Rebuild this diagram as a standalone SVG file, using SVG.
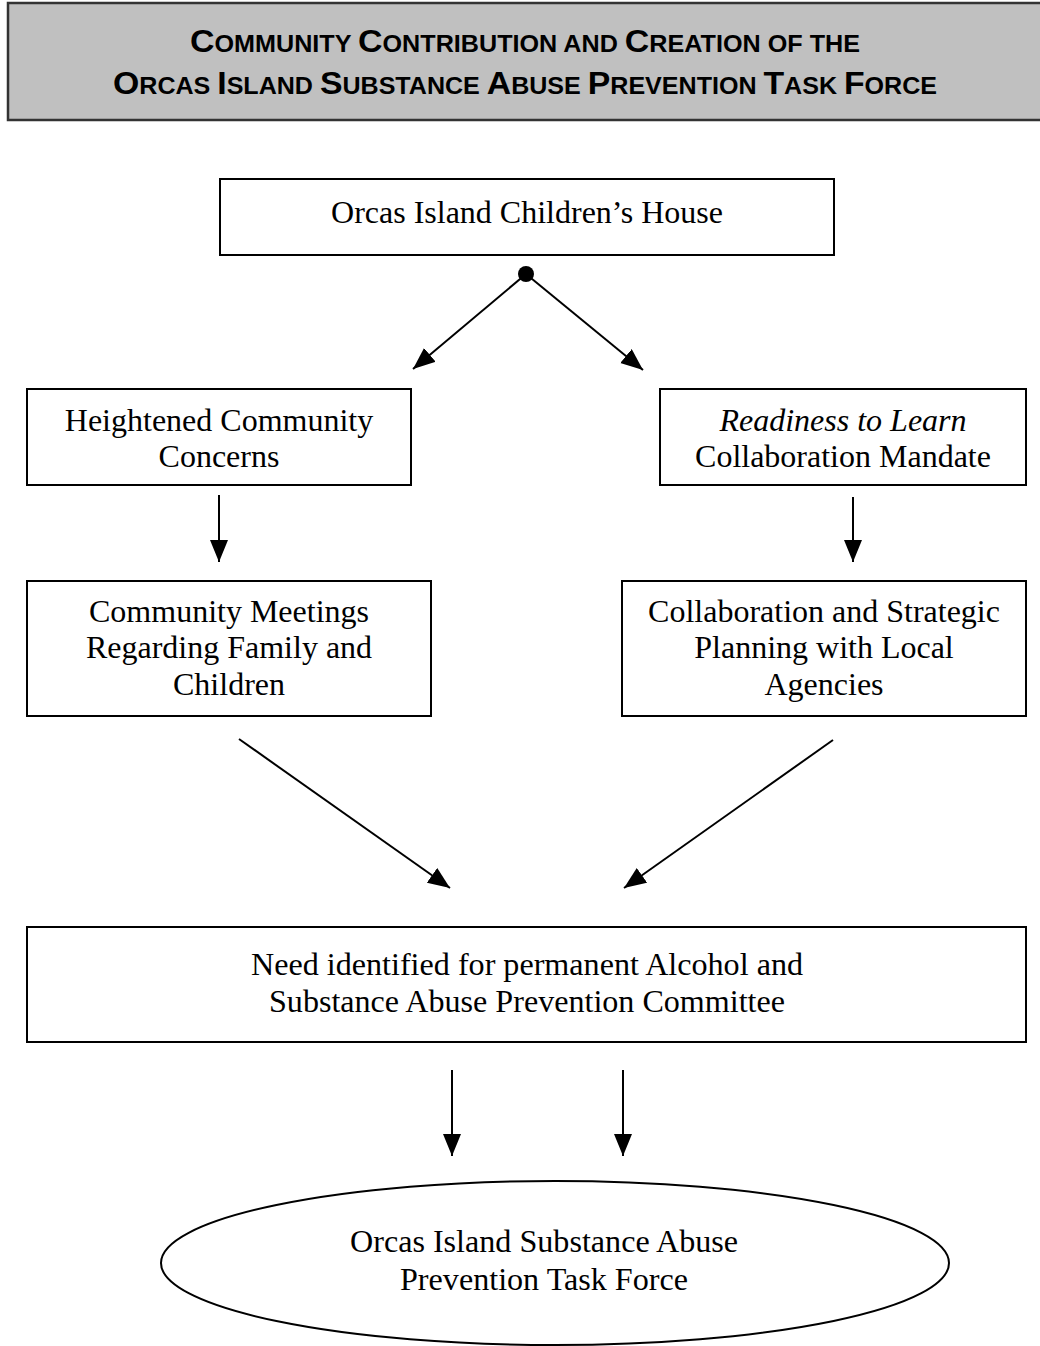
<svg xmlns="http://www.w3.org/2000/svg" width="1040" height="1346" viewBox="0 0 1040 1346">
<style>
.box{fill:#fff;stroke:#000;stroke-width:2}
.t{font-family:"Liberation Serif","Times New Roman",serif;font-size:32px;fill:#000;text-anchor:middle}
.h{font-family:"Liberation Sans",Arial,sans-serif;font-weight:bold;fill:#000;text-anchor:middle}
.big{font-size:31px}
.sm{font-size:23px}
.c{stroke:#000;stroke-width:2;fill:none}
</style>
<defs>
<marker id="ah" markerUnits="userSpaceOnUse" markerWidth="24" markerHeight="20" refX="22" refY="9" orient="auto">
<path d="M0,0 L22,9 L0,18 z" fill="#000"/>
</marker>
</defs>
<rect width="1040" height="1346" fill="#fff"/>
<g id="header">
<rect x="8" y="3" width="1040" height="117" fill="#c0c0c0" stroke="#333" stroke-width="2.5"/>
<text class="h" x="525" y="52" textLength="670" lengthAdjust="spacingAndGlyphs"><tspan class="big">C</tspan><tspan class="sm">OMMUNITY </tspan><tspan class="big">C</tspan><tspan class="sm">ONTRIBUTION AND </tspan><tspan class="big">C</tspan><tspan class="sm">REATION OF THE</tspan></text>
<text class="h" x="525" y="94" textLength="824" lengthAdjust="spacingAndGlyphs"><tspan class="big">O</tspan><tspan class="sm">RCAS </tspan><tspan class="big">I</tspan><tspan class="sm">SLAND </tspan><tspan class="big">S</tspan><tspan class="sm">UBSTANCE </tspan><tspan class="big">A</tspan><tspan class="sm">BUSE </tspan><tspan class="big">P</tspan><tspan class="sm">REVENTION </tspan><tspan class="big">T</tspan><tspan class="sm">ASK </tspan><tspan class="big">F</tspan><tspan class="sm">ORCE</tspan></text>
</g>
<g id="node-childrens-house">
<rect class="box" x="220" y="179" width="614" height="76"/>
<text class="t" x="527" y="223">Orcas Island Children’s House</text>
</g>
<g id="node-heightened">
<rect class="box" x="27" y="389" width="384" height="96"/>
<text class="t" x="219" y="431">Heightened Community</text>
<text class="t" x="219" y="467">Concerns</text>
</g>
<g id="node-readiness">
<rect class="box" x="660" y="389" width="366" height="96"/>
<text class="t" x="843" y="431" font-style="italic">Readiness to Learn</text>
<text class="t" x="843" y="467">Collaboration Mandate</text>
</g>
<g id="node-meetings">
<rect class="box" x="27" y="581" width="404" height="135"/>
<text class="t" x="229" y="622">Community Meetings</text>
<text class="t" x="229" y="658">Regarding Family and</text>
<text class="t" x="229" y="695">Children</text>
</g>
<g id="node-collab">
<rect class="box" x="622" y="581" width="404" height="135"/>
<text class="t" x="824" y="622">Collaboration and Strategic</text>
<text class="t" x="824" y="658">Planning with Local</text>
<text class="t" x="824" y="695">Agencies</text>
</g>
<g id="node-need">
<rect class="box" x="27" y="927" width="999" height="115"/>
<text class="t" x="527" y="975" textLength="552" lengthAdjust="spacingAndGlyphs">Need identified for permanent Alcohol and</text>
<text class="t" x="527" y="1012" textLength="516" lengthAdjust="spacingAndGlyphs">Substance Abuse Prevention Committee</text>
</g>
<g id="node-taskforce">
<ellipse cx="555" cy="1263" rx="394" ry="82" fill="#fff" stroke="#000" stroke-width="2"/>
<text class="t" x="544" y="1252" textLength="388" lengthAdjust="spacingAndGlyphs">Orcas Island Substance Abuse</text>
<text class="t" x="544" y="1290" textLength="288" lengthAdjust="spacingAndGlyphs">Prevention Task Force</text>
</g>
<g id="connectors">
<circle cx="526" cy="274" r="8" fill="#000"/>
<line class="c" x1="526" y1="274" x2="413" y2="369" marker-end="url(#ah)"/>
<line class="c" x1="526" y1="274" x2="643" y2="370" marker-end="url(#ah)"/>
<line class="c" x1="219" y1="495" x2="219" y2="562" marker-end="url(#ah)"/>
<line class="c" x1="853" y1="497" x2="853" y2="562" marker-end="url(#ah)"/>
<line class="c" x1="239" y1="739" x2="450" y2="888" marker-end="url(#ah)"/>
<line class="c" x1="833" y1="740" x2="624" y2="888" marker-end="url(#ah)"/>
<line class="c" x1="452" y1="1070" x2="452" y2="1156" marker-end="url(#ah)"/>
<line class="c" x1="623" y1="1070" x2="623" y2="1156" marker-end="url(#ah)"/>
</g>
</svg>
